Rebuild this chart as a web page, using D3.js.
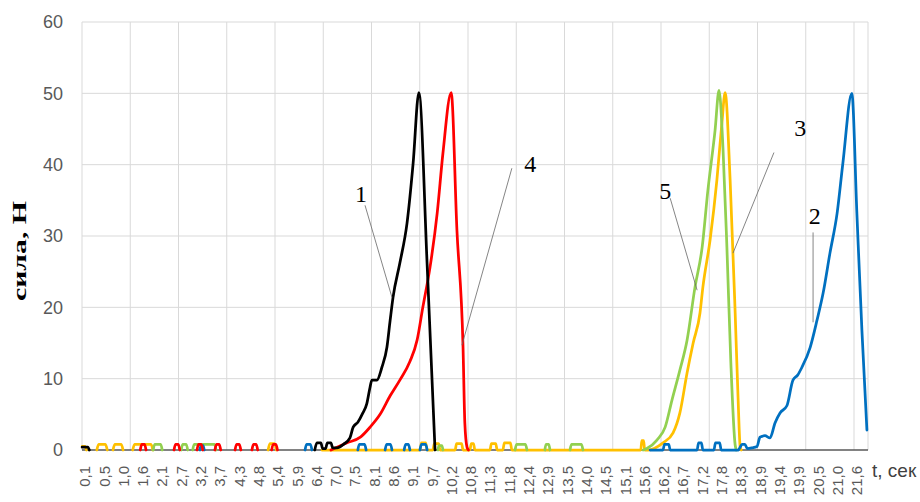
<!DOCTYPE html>
<html>
<head>
<meta charset="utf-8">
<script src="https://cdn.jsdelivr.net/npm/d3@7"></script>
<style>
  body { margin: 0; background: #fff; }
  svg { display: block; }
</style>
</head>
<body>
<svg id="chart"></svg>
<script>
// x labels (Excel category labels, every 20th point)
let tickLabels = ["0,1","0,5","1,0","1,6","2,1","2,7","3,2","3,7","4,3","4,8","5,4","5,9","6,4","7,0","7,5",
  "8,1","8,6","9,1","9,7","10,2","10,8","11,3","11,8","12,4","12,9","13,5","14,0","14,5","15,1","15,6",
  "16,2","16,7","17,2","17,8","18,3","18,9","19,4","19,9","20,5","21,0","21,6"]
let yTicks = [0, 10, 20, 30, 40, 50, 60]

// series: [t, force], null = gap
let series1 = [[0.02,0.4],[0.18,0.4],[0.22,0], null,
  [6.50,0],[6.56,1.0],[6.67,1.0],[6.72,0.2],[6.80,0.2],[6.85,1.0],[6.95,1.0],[7.00,0.3],[7.12,0.3],[7.30,0.8],
  [7.48,1.7],[7.57,3.2],[7.70,3.9],[7.84,5.2],[7.95,6.5],[8.04,8.8],[8.09,9.8],[8.23,9.8],[8.37,11.6],[8.51,14.4],
  [8.60,18.2],[8.68,21.4],[8.87,26.2],[9.07,31.8],[9.24,40.2],[9.40,50.1],[9.63,26],[9.85,0]]

let series2 = [[3.30,0],[3.33,0.6],[3.39,0.6],[3.42,0], null,
  [6.23,0],[6.27,0.8],[6.38,0.8],[6.42,0], null,
  [7.70,0],[7.74,0.8],[7.89,0.8],[7.93,0], null,
  [8.46,0],[8.50,0.8],[8.61,0.8],[8.65,0], null,
  [8.99,0],[9.03,0.8],[9.11,0.8],[9.15,0], null,
  [9.43,0],[9.47,0.8],[9.59,0.8],[9.63,0], null,
  [15.84,0],[16.20,0],[16.24,0.8],[16.36,0.8],[16.40,0],[17.15,0],[17.19,1.0],[17.27,1.0],[17.31,0],
  [17.62,0],[17.66,1.0],[17.78,1.0],[17.82,0],[18.30,0],[18.34,0.3],[18.40,0.8],[18.48,0.8],[18.55,0.2],
  [18.68,0.3],[18.82,0.5],[18.90,1.8],[19.04,2.0],[19.18,1.7],[19.32,3.8],[19.46,5.2],[19.65,6.2],[19.82,9.8],
  [19.95,10.5],[20.07,11.6],[20.30,14.4],[20.49,18.2],[20.66,22],[20.85,27.6],[21.05,33.2],[21.21,40.2],
  [21.46,50],[21.60,33.2],[21.74,16.8],[21.88,2.8]]

let series3 = [[0.02,0.5],[0.10,0.5],[0.14,0], null,
  [0.43,0],[0.48,0.8],[0.67,0.8],[0.72,0], null,
  [0.88,0],[0.93,0.8],[1.11,0.8],[1.16,0], null,
  [1.43,0],[1.48,0.8],[1.94,0.8],[1.99,0], null,
  [5.20,0],[5.25,0.9],[5.38,0.9],[5.43,0], null,
  [6.70,0],[9.43,0],[9.47,1.0],[9.59,1.0],[9.63,0],[9.79,0],[9.83,0.9],[9.95,0.9],[9.99,0],
  [10.41,0],[10.45,0.9],[10.59,0.9],[10.63,0],[10.82,0],[10.86,0.9],[10.92,0.9],[10.96,0],
  [11.38,0],[11.42,0.9],[11.54,0.9],[11.58,0],[11.74,0],[11.78,1.0],[11.95,1.0],[11.99,0],
  [15.58,0],[15.61,1.3],[15.66,1.3],[15.69,0],[15.78,0],[16.20,1],[16.48,2.4],[16.67,5.2],[16.87,10.8],
  [17.04,15],[17.23,19.2],[17.31,22.8],[17.51,29.4],[17.70,37.8],[17.84,45.8],[17.93,50.1],[18.07,37.8],
  [18.21,19.2],[18.29,7.4],[18.35,0.4],[18.38,0]]

let series4 = [[1.64,0],[1.68,0.8],[1.76,0.8],[1.80,0], null,
  [2.58,0],[2.62,0.8],[2.70,0.8],[2.74,0], null,
  [3.22,0],[3.26,0.8],[3.34,0.8],[3.38,0], null,
  [3.72,0],[3.76,0.8],[3.84,0.8],[3.88,0], null,
  [4.28,0],[4.32,0.8],[4.40,0.8],[4.44,0], null,
  [4.75,0],[4.79,0.8],[4.87,0.8],[4.91,0], null,
  [5.30,0],[5.34,0.8],[5.42,0.8],[5.46,0], null,
  [6.95,0],[7.40,1],[7.77,1.8],[8.04,3.2],[8.32,5.0],[8.60,7.6],[8.87,9.8],[9.15,12.4],[9.35,15.4],
  [9.51,20],[9.71,25.6],[9.91,33.2],[10.07,41.6],[10.30,50.1],[10.46,30.8],[10.63,14.4],[10.68,3.8],
  [10.74,0.4],[10.78,0]]

let series5 = [[2.00,0],[2.04,0.8],[2.21,0.8],[2.25,0], null,
  [2.78,0],[2.82,0.8],[2.92,0.8],[2.96,0], null,
  [3.10,0],[3.14,0.8],[3.71,0.8],[3.75,0], null,
  [9.93,0],[9.96,0.6],[10.04,0.6],[10.07,0], null,
  [12.08,0],[12.12,0.8],[12.37,0.8],[12.41,0], null,
  [12.91,0],[12.94,0.8],[13.02,0.8],[13.05,0], null,
  [13.61,0],[13.65,0.8],[13.93,0.8],[13.97,0], null,
  [15.65,0],[15.75,0.2],[16.03,1.4],[16.26,3.2],[16.45,7],[16.67,11.2],[16.87,15.4],[17.09,22.8],
  [17.29,28.4],[17.45,36.4],[17.65,44.8],[17.76,50.4],[17.87,42.4],[17.98,28.4],[18.09,12.2],[18.21,0.7],[18.24,0]]

// draw order matters for the zero line
let drawOrder = [
  {data: series3, color: '#FFC000'},
  {data: series5, color: '#92D050'},
  {data: series2, color: '#0070C0'},
  {data: series4, color: '#FF0000'},
  {data: series1, color: '#000000'}
]

// callouts: label, text point, leader from/to (t, force)
let callouts = [
  {label: '1', at: [7.79, 36.0], from: [7.90, 34.3], to: [8.65, 21.4]},
  {label: '4', at: [12.50, 40.2], from: [11.99, 39.5], to: [10.60, 14.7]},
  {label: '5', at: [16.26, 36.3], from: [16.40, 35.3], to: [17.15, 22.4]},
  {label: '3', at: [20.02, 45.2], from: [19.29, 41.7], to: [18.15, 27.6]},
  {label: '2', at: [20.43, 32.9], from: [20.38, 30.5], to: [20.38, 17.9]}
]

let width = 920
let height = 502
let plotLeft = 82, plotRight = 868, plotTop = 22, plotBottom = 450

let tFirst = 0.1      // first labelled category
let labelStep = 0.5375 // 20 categories
let gridStep = 1.344   // 50 categories
let tStart = 0.0164
let tEnd = 21.91

let svg = d3.select('#chart').attr('width', width).attr('height', height)

let xScale = d3.scaleLinear().domain([tStart, tEnd]).range([plotLeft, plotRight])
let yScale = d3.scaleLinear().domain([0, 60]).range([plotBottom, plotTop])

// grid
let gridTimes = d3.range(tStart, tEnd, gridStep)
svg.append('g').selectAll('line').data(gridTimes).enter().append('line')
   .attr('x1', d => xScale(d)).attr('x2', d => xScale(d))
   .attr('y1', plotTop).attr('y2', plotBottom)
   .attr('stroke', '#d9d9d9').attr('stroke-width', 1)
svg.append('line')
   .attr('x1', plotRight).attr('x2', plotRight).attr('y1', plotTop).attr('y2', plotBottom)
   .attr('stroke', '#d9d9d9')
svg.append('g').selectAll('line').data(yTicks.slice(1)).enter().append('line')
   .attr('x1', plotLeft).attr('x2', plotRight)
   .attr('y1', d => yScale(d)).attr('y2', d => yScale(d))
   .attr('stroke', '#d9d9d9').attr('stroke-width', 1)

// y axis
let yAxis = d3.axisLeft(yScale).tickValues(yTicks).tickSize(0).tickPadding(19)
let yG = svg.append('g').attr('transform', 'translate(' + plotLeft + ',0)').call(yAxis)
yG.select('.domain').remove()
yG.selectAll('text')
  .attr('font-family', '"Liberation Sans", Arial, sans-serif')
  .attr('font-size', 18)
  .attr('fill', '#595959')

// x axis line
svg.append('line')
   .attr('x1', plotLeft).attr('x2', plotRight).attr('y1', plotBottom).attr('y2', plotBottom)
   .attr('stroke', '#595959').attr('stroke-width', 1.5)

// x labels
svg.append('g').selectAll('text').data(tickLabels).enter().append('text')
   .attr('transform', (d, i) => 'translate(' + xScale(tFirst + i * labelStep) + ',466) rotate(-90)')
   .attr('text-anchor', 'end')
   .attr('dy', '0.35em')
   .attr('font-family', '"Liberation Sans", Arial, sans-serif')
   .attr('font-size', 15)
   .attr('fill', '#595959')
   .text(d => d)

svg.append('text')
   .attr('x', 872).attr('y', 477)
   .attr('font-family', '"Liberation Sans", Arial, sans-serif')
   .attr('font-size', 19)
   .attr('fill', '#404040')
   .text('t, сек')

svg.append('text')
   .attr('transform', 'translate(19,251) rotate(-90)')
   .attr('text-anchor', 'middle')
   .attr('dy', '0.35em')
   .attr('font-family', '"Liberation Serif", "Times New Roman", serif')
   .attr('font-weight', 'bold')
   .attr('font-size', 19)
   .attr('textLength', 100)
   .attr('lengthAdjust', 'spacingAndGlyphs')
   .text('сила, Н')

// lines
let line = d3.line()
  .defined(d => d !== null)
  .x(d => xScale(d[0]))
  .y(d => yScale(d[1]))
  .curve(d3.curveMonotoneX)

drawOrder.forEach(s => {
  svg.append('path')
     .datum(s.data)
     .attr('d', line)
     .attr('fill', 'none')
     .attr('stroke', s.color)
     .attr('stroke-width', 2.75)
     .attr('stroke-linejoin', 'round')
     .attr('stroke-linecap', 'round')
})

// callouts
let cg = svg.append('g')
cg.selectAll('line').data(callouts).enter().append('line')
  .attr('x1', d => xScale(d.from[0])).attr('y1', d => yScale(d.from[1]))
  .attr('x2', d => xScale(d.to[0])).attr('y2', d => yScale(d.to[1]))
  .attr('stroke', '#666').attr('stroke-width', 0.8)
cg.selectAll('text').data(callouts).enter().append('text')
  .attr('x', d => xScale(d.at[0])).attr('y', d => yScale(d.at[1]))
  .attr('text-anchor', 'middle')
  .attr('dy', '0.35em')
  .attr('font-family', '"Liberation Serif", "Times New Roman", serif')
  .attr('font-size', 24)
  .attr('fill', '#000')
  .text(d => d.label)
</script>
</body>
</html>
